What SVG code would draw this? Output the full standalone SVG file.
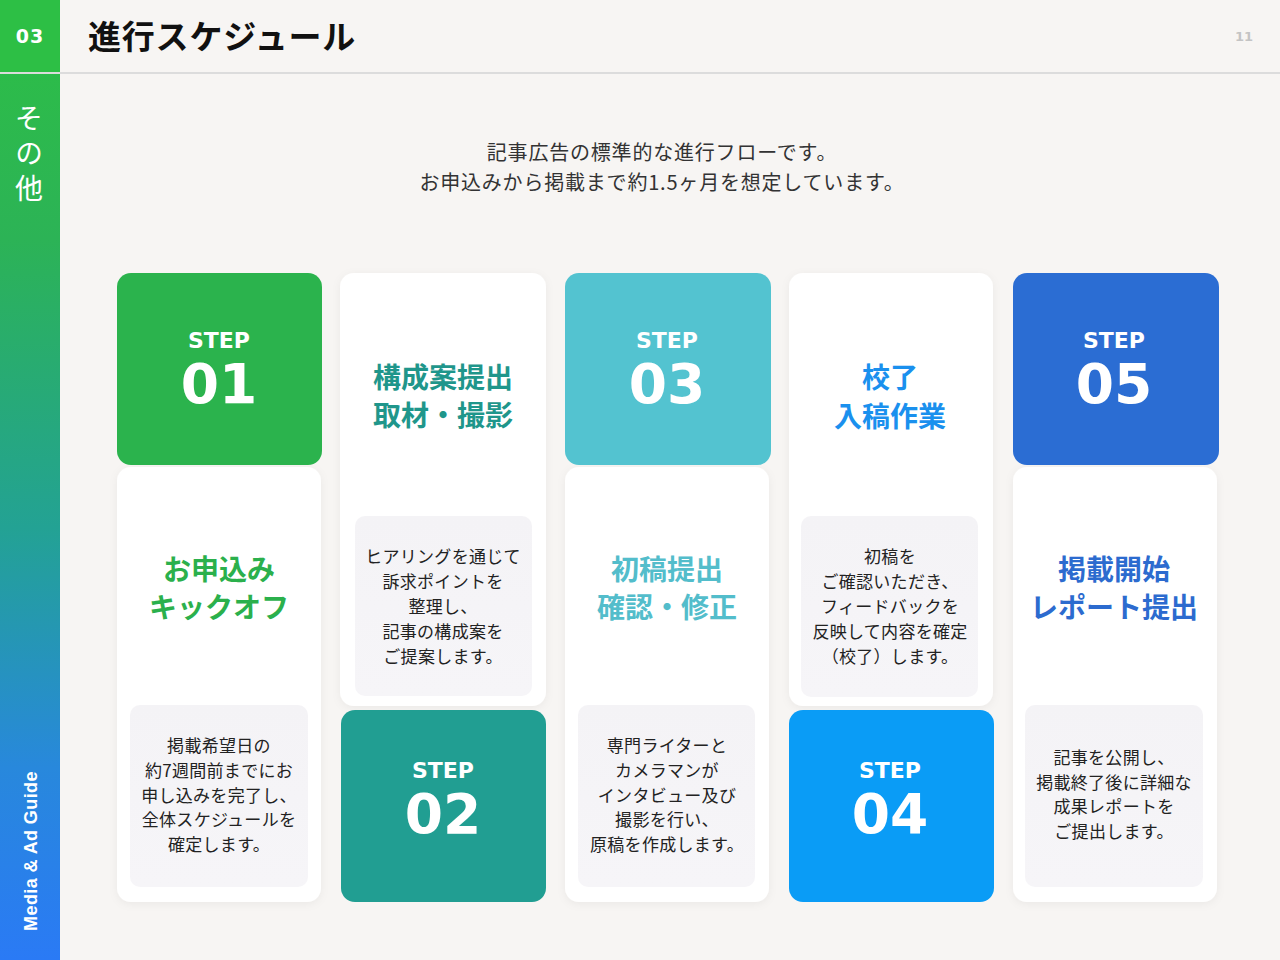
<svg xmlns="http://www.w3.org/2000/svg" width="1280" height="960" viewBox="0 0 1280 960">
<defs>
<linearGradient id="side" x1="0" y1="0" x2="0" y2="1">
<stop offset="0" stop-color="#2dbf45"/>
<stop offset="0.25" stop-color="#2cb356"/>
<stop offset="0.55" stop-color="#23a294"/>
<stop offset="0.8" stop-color="#2888dc"/>
<stop offset="1" stop-color="#2a7af5"/>
</linearGradient>
<filter id="sh" x="-10%" y="-10%" width="120%" height="120%">
<feDropShadow dx="0" dy="2" stdDeviation="4" flood-color="#000" flood-opacity="0.05"/>
</filter>
<linearGradient id="desc" x1="0" y1="0" x2="0" y2="1">
<stop offset="0" stop-color="#f4f3f6"/>
<stop offset="1" stop-color="#f6f5f8"/>
</linearGradient>
</defs>
<style>
.jp{font-family:"Noto Sans CJK JP","Noto Sans",sans-serif}
.ttl{font-family:"Noto Sans CJK JP",sans-serif;font-weight:700;font-size:28px;text-anchor:middle}
.dsc{font-family:"Noto Sans CJK JP",sans-serif;font-weight:400;font-size:17px;fill:#222;text-anchor:middle;letter-spacing:0.3px}
.step{font-family:"DejaVu Sans",sans-serif;font-weight:700;fill:#fff;text-anchor:middle}
.card{fill:#ffffff;filter:url(#sh)}
.dbox{fill:url(#desc)}
</style>
<rect x="0" y="0" width="1280" height="960" fill="#f7f5f3"/>
<g id="header">
<rect x="0" y="0" width="60" height="960" fill="url(#side)"/>
<rect x="0" y="0" width="60" height="72" fill="#2dbf45"/>
<rect x="0" y="72" width="1280" height="2" fill="#dcdcdc"/>
<text x="30" y="43" class="step" font-size="19" letter-spacing="1">03</text>
<text x="88" y="49" class="jp" font-size="33" font-weight="700" fill="#111" letter-spacing="0.8">進行スケジュール</text>
<text x="1244" y="41" font-family="DejaVu Sans, sans-serif" font-weight="700" font-size="13" fill="#c4c4c4" text-anchor="middle">11</text>
</g>
<g id="sidebar-text">
<text x="29" y="104" class="jp" font-size="28" fill="#fff" writing-mode="vertical-rl" letter-spacing="7">その他</text>
<text transform="translate(37,851) rotate(-90)" font-family="Liberation Sans, Arial, sans-serif" font-weight="700" font-size="18" fill="#fff" text-anchor="middle" letter-spacing="0.4">Media &amp; Ad Guide</text>
</g>
<g id="intro">
<text x="662" y="160" class="jp" font-size="20" fill="#333" text-anchor="middle" letter-spacing="0.8">記事広告の標準的な進行フローです。</text>
<text x="662" y="190" class="jp" font-size="20" fill="#333" text-anchor="middle" letter-spacing="0.8">お申込みから掲載まで約1.5ヶ月を想定しています。</text>
</g>
<g id="connectors"></g>
<g id="step01">
<rect class="card" x="117" y="467" width="204" height="435" rx="14"/>
<rect x="117" y="273" width="205" height="192" rx="14" fill="#2bb34d"/>
<text x="219" y="348" class="step" font-size="22">STEP</text>
<text x="219" y="403" class="step" font-size="55">01</text>
<text x="219" y="580" class="ttl" fill="#2bb04c">お申込み</text>
<text x="219" y="618" class="ttl" fill="#2bb04c">キックオフ</text>
<rect class="dbox" x="130" y="705" width="178" height="182" rx="10"/>
<text class="dsc" x="219" y="752">掲載希望日の</text>
<text class="dsc" x="219" y="777">約7週間前までにお</text>
<text class="dsc" x="219" y="802">申し込みを完了し、</text>
<text class="dsc" x="219" y="826">全体スケジュールを</text>
<text class="dsc" x="219" y="851">確定します。</text>
</g>
<g id="step02">
<rect class="card" x="340" y="273" width="206" height="433" rx="14"/>
<text x="443" y="388" class="ttl" fill="#1f968b">構成案提出</text>
<text x="443" y="426" class="ttl" fill="#1f968b">取材・撮影</text>
<rect class="dbox" x="355" y="516" width="177" height="180" rx="10"/>
<text class="dsc" x="443" y="563">ヒアリングを通じて</text>
<text class="dsc" x="443" y="588">訴求ポイントを</text>
<text class="dsc" x="443" y="613">整理し、</text>
<text class="dsc" x="443" y="638">記事の構成案を</text>
<text class="dsc" x="443" y="663">ご提案します。</text>
<rect x="341" y="710" width="205" height="192" rx="14" fill="#219e92"/>
<text x="443" y="778" class="step" font-size="22">STEP</text>
<text x="443" y="833" class="step" font-size="55">02</text>
</g>
<g id="step03">
<rect class="card" x="565" y="467" width="204" height="435" rx="14"/>
<rect x="565" y="273" width="206" height="192" rx="14" fill="#53c3d0"/>
<text x="667" y="348" class="step" font-size="22">STEP</text>
<text x="667" y="403" class="step" font-size="55">03</text>
<text x="667" y="580" class="ttl" fill="#53bdcb">初稿提出</text>
<text x="667" y="618" class="ttl" fill="#53bdcb">確認・修正</text>
<rect class="dbox" x="578" y="705" width="177" height="182" rx="10"/>
<text class="dsc" x="667" y="752">専門ライターと</text>
<text class="dsc" x="667" y="777">カメラマンが</text>
<text class="dsc" x="667" y="802">インタビュー及び</text>
<text class="dsc" x="667" y="826">撮影を行い、</text>
<text class="dsc" x="667" y="851">原稿を作成します。</text>
</g>
<g id="step04">
<rect class="card" x="789" y="273" width="204" height="433" rx="14"/>
<text x="890" y="388" class="ttl" fill="#1a90ee">校了</text>
<text x="890" y="427" class="ttl" fill="#1a90ee">入稿作業</text>
<rect class="dbox" x="801" y="516" width="177" height="181" rx="10"/>
<text class="dsc" x="890" y="563">初稿を</text>
<text class="dsc" x="890" y="588">ご確認いただき、</text>
<text class="dsc" x="890" y="613">フィードバックを</text>
<text class="dsc" x="890" y="638">反映して内容を確定</text>
<text class="dsc" x="890" y="663">（校了）します。</text>
<rect x="789" y="710" width="205" height="192" rx="14" fill="#0a9cf6"/>
<text x="890" y="778" class="step" font-size="22">STEP</text>
<text x="890" y="833" class="step" font-size="55">04</text>
</g>
<g id="step05">
<rect class="card" x="1013" y="467" width="204" height="435" rx="14"/>
<rect x="1013" y="273" width="206" height="192" rx="14" fill="#2b6dd3"/>
<text x="1114" y="348" class="step" font-size="22">STEP</text>
<text x="1114" y="403" class="step" font-size="55">05</text>
<text x="1114" y="580" class="ttl" fill="#2c6bcf">掲載開始</text>
<text x="1114" y="618" class="ttl" fill="#2c6bcf">レポート提出</text>
<rect class="dbox" x="1025" y="705" width="178" height="182" rx="10"/>
<text class="dsc" x="1114" y="764">記事を公開し、</text>
<text class="dsc" x="1114" y="789">掲載終了後に詳細な</text>
<text class="dsc" x="1114" y="813">成果レポートを</text>
<text class="dsc" x="1114" y="838">ご提出します。</text>
</g>
</svg>
